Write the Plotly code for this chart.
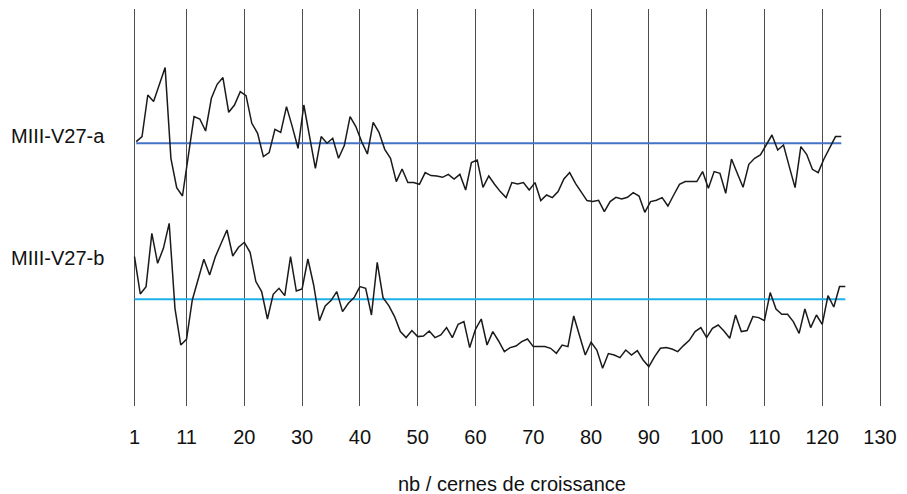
import plotly.graph_objects as go

# --- data -------------------------------------------------------------
series_names = ["MIII-V27-a", "MIII-V27-b"]

# ring-width indices (deviation from each series' reference line)
a_values = [1.7, 6.7, 48.3, 41.7, 58.7, 75.7, -15, -44.3, -52.7, -11.7,
            26.7, 24.3, 12.3, 45, 59, 65.7, 31, 38.3, 51.7, 47.7,
            20, 10, -13.3, -9.3, 14, 11, 36.7, 16.7, -5, 38.3,
            6.7, -25, 6.7, 0, 5, -15, -2.3, 26.7, 16.7, 1.7,
            -10.7, 21, 11, -6, -15, -38.3, -25.7, -39.3, -39.3, -41,
            -29.3, -32.3, -32.7, -34, -31, -35.7, -31, -46.7, -19.3, -16.7,
            -44, -32.7, -41, -48.3, -54.3, -39.3, -40.7, -39.3, -46.7, -39.3,
            -57.3, -51.7, -54.3, -48.3, -35.7, -29.3, -40, -49, -57.3, -58.3,
            -57, -68.3, -58.3, -54, -55.7, -54, -49.3, -52.7, -69, -58.3,
            -57, -54.3, -62.7, -51.7, -41, -38.3, -38.3, -38.3, -28.3, -45,
            -28.3, -30, -50, -15.7, -30, -44, -21, -15, -11.7, -1.7,
            8.3, -6.7, -1.7, -23.3, -44.3, -3.3, -11, -26, -29.3, -15.7,
            -5, 6.7, 6.7]

b_values = [42.7, 5.3, 12.7, 66, 36, 51, 76, -9, -45.7, -40,
            -0.7, 20.3, 40, 24.3, 42.7, 56, 69.3, 43.3, 52, 57,
            47, 17.7, 7.7, -19.7, 5, 11, 3.7, 42.7, 8.3, 10.3,
            40.3, 14.3, -21.3, -6.7, -1.3, 7.7, -12.3, -4, 1.7, 12.7,
            11, -15.7, 37, 1.7, -6.3, -17.3, -32.3, -38.3, -31.3, -37.3,
            -36.7, -31.7, -38.3, -35.7, -28.3, -38.3, -25, -22.3, -48.3, -30,
            -19.7, -45.7, -32.3, -41.7, -52.3, -48.3, -46.7, -42.3, -39.7, -47.3,
            -47.3, -47.3, -49, -54, -45.7, -47.3, -16.7, -37.3, -55.7, -43,
            -50.7, -69, -54.3, -55.7, -58.3, -50.7, -55.7, -51.3, -60.7, -67.3,
            -57.3, -49, -48.3, -49.7, -52.3, -46.3, -41, -32.3, -28.3, -38.3,
            -29, -25.7, -31.7, -39, -15.7, -32.3, -31.3, -17.3, -18.3, -21.3,
            6.7, -9.7, -15, -15, -22.3, -34, -9.7, -28.3, -15.7, -25,
            3.7, -7.7, 12.7, 12.7]

a_start = 1.3          # first ring position of series a
b_start = 1.0          # first ring position of series b
a_level = 262.7        # vertical offset of series a
b_level = 106.7        # vertical offset of series b

tick_vals = [1, 10, 20, 30, 40, 50, 60, 70, 80, 90, 100, 110, 120, 130]
tick_text = ["1", "11", "20", "30", "40", "50", "60", "70", "80", "90",
             "100", "110", "120", "130"]
x_title = "nb / cernes de croissance"

# --- figure -----------------------------------------------------------
a_x = [a_start + i for i in range(len(a_values))]
b_x = [b_start + i for i in range(len(b_values))]

fig = go.Figure()

# reference lines
fig.add_trace(go.Scatter(x=[a_x[0], a_x[-1]], y=[a_level, a_level], mode="lines",
                         line=dict(color="#4472C4", width=2), hoverinfo="skip"))
fig.add_trace(go.Scatter(x=[b_x[0], b_x[-1]], y=[b_level, b_level], mode="lines",
                         line=dict(color="#1CB0EC", width=2), hoverinfo="skip"))

# series curves
fig.add_trace(go.Scatter(x=a_x, y=[a_level + v for v in a_values], mode="lines",
                         line=dict(color="#1a1a1a", width=1.5), name=series_names[0]))
fig.add_trace(go.Scatter(x=b_x, y=[b_level + v for v in b_values], mode="lines",
                         line=dict(color="#1a1a1a", width=1.5), name=series_names[1]))

font_family = "Liberation Sans, Arial, sans-serif"
W, H = 899, 486   # page body keeps an 8px margin

fig.update_layout(
    width=W, height=H,
    margin=dict(l=0, r=0, t=1, b=88),
    paper_bgcolor="white", plot_bgcolor="white",
    showlegend=False,
    font=dict(family=font_family, size=20, color="#111111"),
    xaxis=dict(range=[-20.89, 134.67], tickvals=tick_vals, ticktext=tick_text,
               showgrid=True, gridcolor="#4d4d4d", gridwidth=1,
               zeroline=False, showline=False, ticks="",
               ticklabelstandoff=17,
               tickfont=dict(family=font_family, size=20, color="#111111")),
    yaxis=dict(range=[0, 397], visible=False, showgrid=False, zeroline=False),
    annotations=[
        dict(text=series_names[0], xref="paper", yref="y", x=1 / W, y=270,
             xanchor="left", yanchor="middle", showarrow=False,
             font=dict(family=font_family, size=20, color="#111111")),
        dict(text=series_names[1], xref="paper", yref="y", x=1 / W, y=148,
             xanchor="left", yanchor="middle", showarrow=False,
             font=dict(family=font_family, size=20, color="#111111")),
        dict(text=x_title, xref="paper", yref="paper", x=504 / W, y=-78 / 397,
             xanchor="center", yanchor="middle", showarrow=False,
             font=dict(family=font_family, size=20, color="#111111")),
    ],
)

fig.write_html("out.html")
